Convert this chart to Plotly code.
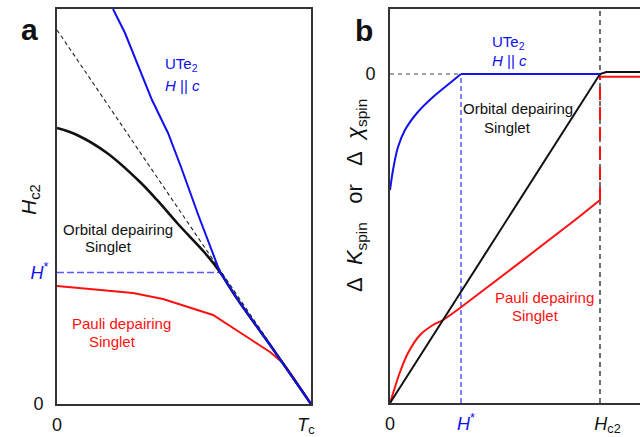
import plotly.graph_objects as go

W, H = 640, 437
FONT = "Liberation Sans, Arial, Helvetica, sans-serif"
BLUE = "#1010f0"
BLUE_DASH = "#5a5aff"
RED = "#ff1010"
AXIS = "#333333"
NB = "\u00a0"

# ---------------- panel a: H_c2(T), T in units of Tc ----------------
t_guide = [0.0, 1.0]
h_guide = [0.947, 0.0]

t_ute2 = [0.2205, 0.2677, 0.3740, 0.4370, 0.4882, 0.5591, 0.6417, 0.6693, 0.7126, 0.8583, 1.0]
h_ute2 = [1.0, 0.9392, 0.7696, 0.6861, 0.6000, 0.4734, 0.3342, 0.3063, 0.2633, 0.1316, 0.0]

t_orbital = [0.0, 0.0787, 0.1969, 0.3268, 0.3937, 0.4764, 0.5827, 0.6417, 0.6693, 0.7126, 0.8583, 1.0]
h_orbital = [0.6987, 0.6810, 0.6354, 0.5620, 0.5165, 0.4557, 0.3823, 0.3342, 0.3063, 0.2633, 0.1316, 0.0]

t_pauli = [0.0, 0.2992, 0.4173, 0.6142, 0.7480, 0.8386, 0.8898, 0.9291, 1.0]
h_pauli = [0.2987, 0.2810, 0.2658, 0.2253, 0.1696, 0.1316, 0.1038, 0.0684, 0.0]

H_STAR_A = 0.333   # H* on the field axis
T_STAR_A = 0.6417  # temperature where UTe2 curve reaches H*

# ---------------- panel b: spin susceptibility change vs H / Hc2 ----------------
H_STAR_B = 0.338
HC2_B = 1.0
X_MAX_B = 1.1905
Y_MIN_B, Y_MAX_B = -1.0, 0.1976

# UTe2: recovery below H*, then flat at zero up to Hc2
hb_ute2 = [0.0, 0.0143, 0.0381, 0.0714, 0.1286, 0.2048, 0.2857, 0.338]
kb_ute2 = [-0.3526, -0.2918, -0.2219, -0.1702, -0.1185, -0.0699, -0.0274, 0.0]
hb_ute2_flat = [0.338, 1.0]
kb_ute2_flat = [0.0, 0.0]

hb_orbital = [0.0, 1.0, 1.03, 1.1905]
kb_orbital = [-1.0, 0.0, 0.006, 0.006]

hb_pauli = [0.0, 0.0238, 0.0476, 0.0857, 0.1429, 0.2048, 0.2524, 0.3333, 0.8810, 1.0]
kb_pauli = [-1.0, -0.9514, -0.9058, -0.8480, -0.7933, -0.7629, -0.7477, -0.7112, -0.4438, -0.3830]

# jump of the Pauli-limited curve at Hc2 and the normal-state value above it
kb_pauli_jump = [-0.3830, -0.008]
hb_pauli_normal = [1.0, 1.1905]
kb_pauli_normal = [-0.008, -0.008]

fig = go.Figure()


def line(x, y, color, width, dash="solid", axes="a", shape="linear", smoothing=1.0):
    xa, ya = ("x", "y") if axes == "a" else ("x2", "y2")
    fig.add_trace(go.Scatter(
        x=x, y=y, mode="lines", xaxis=xa, yaxis=ya, cliponaxis=False,
        line=dict(color=color, width=width, dash=dash, shape=shape, smoothing=smoothing),
        hoverinfo="skip", showlegend=False))


# panel a
line(t_guide, h_guide, "#222222", 1.1, "4px,3px")
line([0.0, T_STAR_A], [H_STAR_A, H_STAR_A], BLUE_DASH, 1.6, "7px,3px")
line(t_pauli, h_pauli, RED, 2)
line(t_orbital, h_orbital, "#111111", 2.6, shape="spline", smoothing=1.0)
line(t_ute2, h_ute2, BLUE, 2)

# panel b
line([0.0, HC2_B], [0.0, 0.0], "#444444", 1.2, "4px,4px", axes="b")
line([H_STAR_B, H_STAR_B], [Y_MIN_B, 0.0], BLUE_DASH, 1.5, "5px,3px", axes="b")
line([HC2_B, HC2_B], [Y_MIN_B, Y_MAX_B], "#111111", 1.2, "5px,4px", axes="b")
line([HC2_B, HC2_B], kb_pauli_jump, RED, 2, "13px,7px", axes="b")
line(hb_pauli, kb_pauli, RED, 2, axes="b", shape="spline", smoothing=0.7)
line(hb_pauli_normal, kb_pauli_normal, RED, 2, axes="b")
line(hb_orbital, kb_orbital, "#111111", 2, axes="b")
line(hb_ute2, kb_ute2, BLUE, 2, axes="b", shape="spline", smoothing=0.7)
line(hb_ute2_flat, kb_ute2_flat, BLUE, 2, axes="b")

h_star = f'<span style="color:{BLUE}"><i>H</i><sup>*</sup></span>'

axis_common = dict(
    showline=True, linecolor=AXIS, linewidth=2, showgrid=False, zeroline=False,
    ticks="", automargin=False, tickfont=dict(family=FONT, size=18, color="#111111"),
)

fig.update_layout(
    width=W, height=H, margin=dict(l=0, r=0, t=0, b=0, autoexpand=False),
    paper_bgcolor="white", plot_bgcolor="white",
    xaxis=dict(domain=[57 / W, 311 / W], range=[0, 1], mirror=True,
               tickvals=[0, 1], ticktext=["0", f"<i>T</i><sub>c</sub>{NB * 2}"],
               ticklabelstandoff=3, anchor="y", **axis_common),
    yaxis=dict(domain=[(H - 404) / H, (H - 9) / H], range=[0, 1], mirror=True,
               tickvals=[0, H_STAR_A], ticktext=["0" + NB, h_star],
               ticklabelstandoff=3, anchor="x", **axis_common),
    xaxis2=dict(domain=[390 / W, 1.0], range=[0, X_MAX_B], mirror=True,
                tickvals=[0, H_STAR_B, HC2_B],
                ticktext=["0", NB * 2 + h_star, NB * 3 + "<i>H</i><sub>c2</sub>"],
                ticklabelstandoff=3, anchor="y2", **axis_common),
    yaxis2=dict(domain=[(H - 403) / H, (H - 9) / H], range=[Y_MIN_B, Y_MAX_B], mirror=False,
                tickvals=[0], ticktext=["0"],
                ticklabelstandoff=9, anchor="x2", **axis_common),
)


def note(text, x, y, size=15, color="#111111", xanchor="center", angle=0, bold=False):
    fig.add_annotation(
        text=f"<b>{text}</b>" if bold else text,
        x=x / W, y=1 - y / H, xref="paper", yref="paper", showarrow=False,
        xanchor=xanchor, yanchor="middle", textangle=angle,
        font=dict(family=FONT, size=size, color=color))


# panel letters
note("a", 29, 29, size=30, bold=True)
note("b", 364, 30, size=30, bold=True)

# panel a labels
note("UTe<sub>2</sub>", 163, 65, color=BLUE, xanchor="left")
note("<i>H</i> || <i>c</i>", 163, 85, color=BLUE, xanchor="left")
note("Orbital depairing", 118, 229)
note("Singlet", 108, 247)
note("Pauli depairing", 121, 323, color=RED)
note("Singlet", 112, 341, color=RED)
note("<i>H</i><sub>c2</sub>", 30, 200, size=21, angle=-90)

# panel b labels
note("UTe<sub>2</sub>", 490, 42, color=BLUE, xanchor="left")
note("<i>H</i> || <i>c</i>", 490, 60, color=BLUE, xanchor="left")
note("Orbital depairing", 518, 109)
note("Singlet", 507, 128)
note("Pauli depairing", 544, 297, color=RED)
note("Singlet", 535, 315, color=RED)
note(f"Δ{NB * 2}<i>K</i><sub>spin</sub>{NB * 3}or{NB * 3}Δ{NB * 2}<i>χ</i><sub>spin</sub>",
     356, 196, size=22, angle=-90)

fig.write_html("out.html")
